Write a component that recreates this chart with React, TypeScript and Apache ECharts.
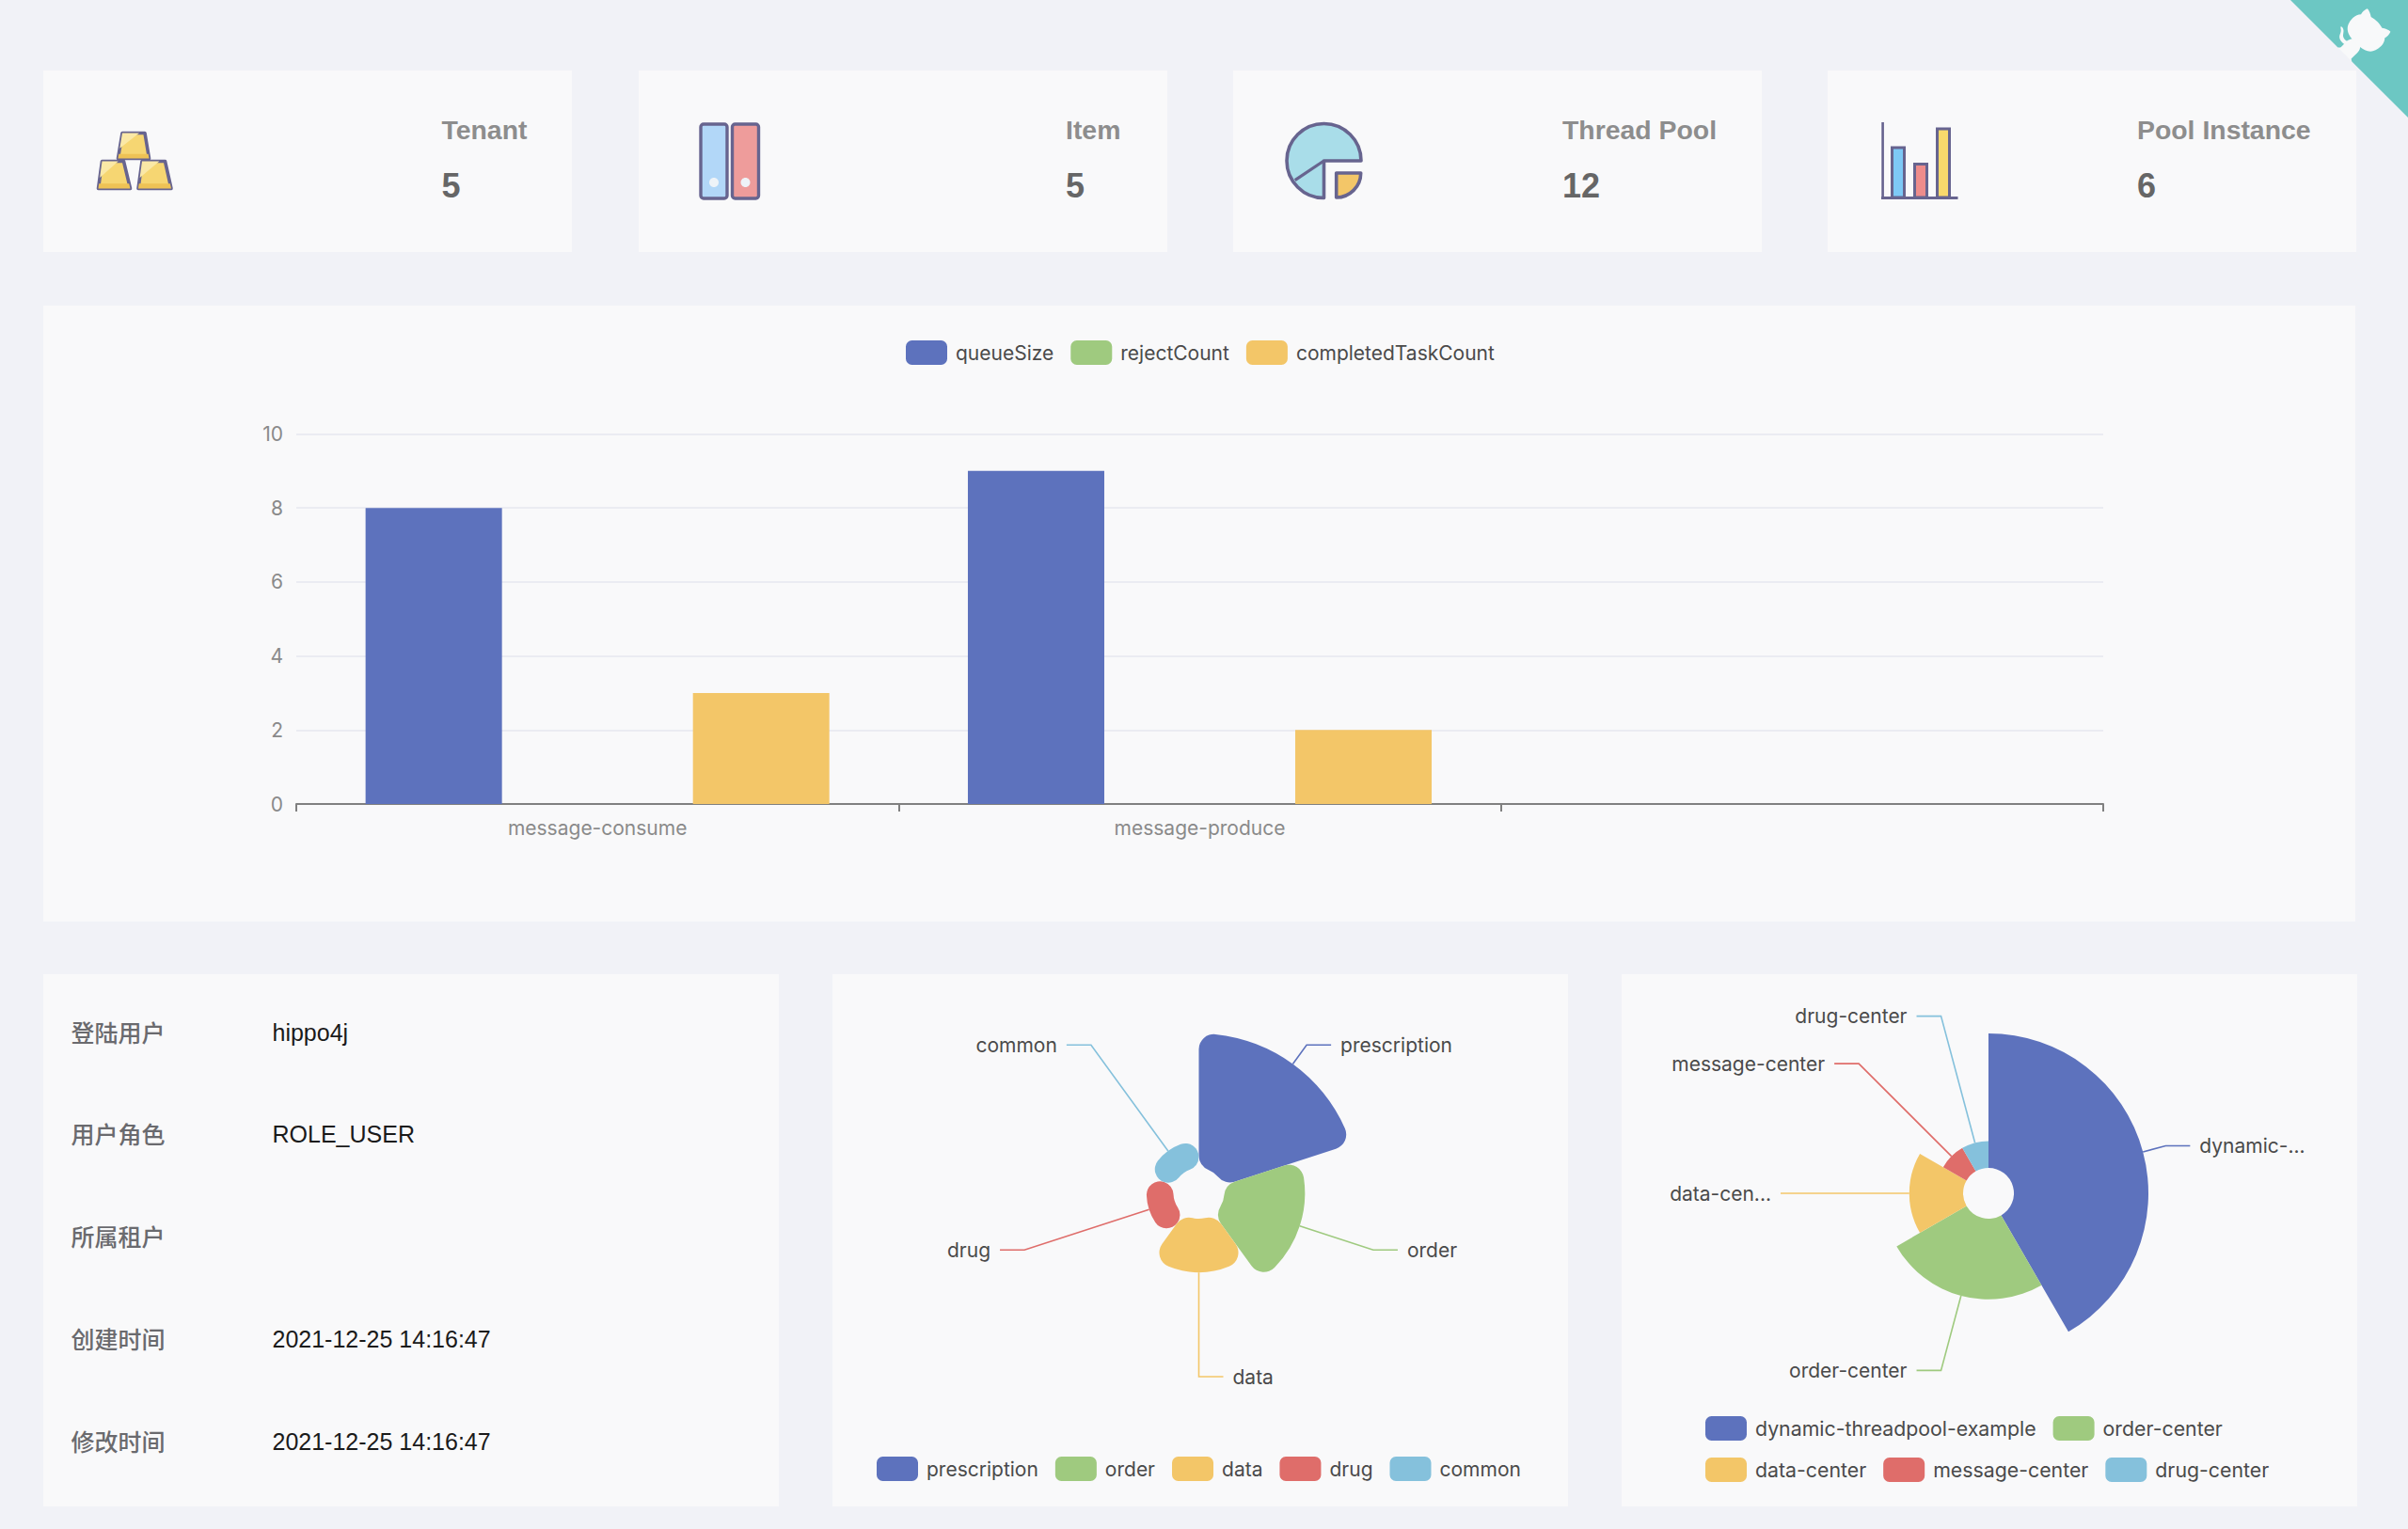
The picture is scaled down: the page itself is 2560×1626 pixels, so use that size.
import React, { useEffect, useRef } from "react";
import * as echarts from "echarts";

// ---------- data ----------
const cardTitles = ["Tenant", "Item", "Thread Pool", "Pool Instance"];
const cardValues = ["5", "5", "12", "6"];
const barCategories = ["message-consume", "message-produce", ""];
const barSeriesNames = ["queueSize", "rejectCount", "completedTaskCount"];
const queueSize = [8, 9];
const rejectCount = [0, 0];
const completedTaskCount = [3, 2];
const infoLabels = ["登陆用户", "用户角色", "所属租户", "创建时间", "修改时间"];
const infoValues = ["hippo4j", "ROLE_USER", "", "2021-12-25 14:16:47", "2021-12-25 14:16:47"];
const pieANames = ["prescription", "order", "data", "drug", "common"];
const pieAValues = [5, 3, 2, 1, 1];
const pieBNames = ["dynamic-threadpool-example", "order-center", "data-center", "message-center", "drug-center"];
const pieBValues = [5, 3, 2, 1, 1];

// ---------- style ----------
const PALETTE = ["#5d72bd", "#9fca7f", "#f3c668", "#df6d6a", "#85c1dc"];
const BG = "#f1f2f7";
const PANEL = "#f9f9fa";
const INK = "#67648f";
const FONT = "Inter, 'Noto Sans', sans-serif";
const HEL = "'Liberation Sans', Arial, sans-serif";

echarts.graphic.registerShape(
  "ghCorner",
  echarts.graphic.extendPath("M0,0 L115,115 L130,115 L142,142 L250,250 L250,0 Z", {})
);
echarts.graphic.registerShape(
  "ghArm",
  echarts.graphic.extendPath(
    "M128.3,109.0 C113.8,99.7 119.0,89.6 119.0,89.6 C122.0,82.7 120.5,78.6 120.5,78.6 C119.2,72.0 123.4,76.3 123.4,76.3 C127.3,80.9 125.5,87.3 125.5,87.3 C122.9,97.6 130.6,101.9 134.4,103.2 Z",
    {}
  )
);
echarts.graphic.registerShape(
  "ghBody",
  echarts.graphic.extendPath(
    "M115.0,115.0 C114.9,115.1 118.7,116.5 119.8,115.4 L133.7,101.6 C136.9,99.2 139.9,98.4 142.2,98.6 C133.8,88.0 127.5,74.4 143.8,58.0 C148.5,53.4 154.0,51.2 159.7,51.0 C160.3,49.4 163.2,43.6 171.4,40.1 C171.4,40.1 176.1,42.5 178.8,56.2 C183.1,58.6 187.2,61.8 190.9,65.4 C194.5,69.0 197.7,73.2 200.1,77.6 C213.8,80.2 216.3,84.9 216.3,84.9 C212.7,93.1 206.9,96.0 205.4,96.6 C205.1,102.4 203.0,107.8 198.3,112.5 C181.9,128.9 168.3,122.5 157.7,114.1 C157.9,116.9 156.7,120.9 152.7,124.9 L141.0,136.5 C139.8,137.7 141.6,141.9 141.8,141.8 Z",
    {}
  )
);

const panel = (x: number, y: number, width: number, height: number) => ({
  type: "rect",
  silent: true,
  shape: { x, y, width, height },
  style: { fill: PANEL },
});

const label = (text: string, x: number, y: number, font: string, fill: string) => ({
  type: "text",
  silent: true,
  x,
  y,
  style: { text, font, fill, textAlign: "left", textVerticalAlign: "middle", verticalAlign: "middle" },
});

const poly = (points: number[][], fill: string, stroke?: string, lineWidth = 0) => ({
  type: "polygon",
  silent: true,
  shape: { points },
  style: { fill, stroke, lineWidth, lineJoin: "round" },
});

const goldBar = (p: number[][]) => {
  const [a, b, c, d] = p;
  const band = 0.18;
  const lerp = (u: number[], v: number[], t: number) => [u[0] + (v[0] - u[0]) * t, u[1] + (v[1] - u[1]) * t];
  return [
    poly(p, "#f6d672", INK, 3.6),
    poly([a, lerp(a, b, 0.75), lerp(a, d, 0.6)], "#fae8a6"),
    poly([lerp(d, a, band), lerp(c, b, band), c, d], "#eec255"),
  ];
};

const iconGold = [
  ...goldBar([[130, 141.5], [154, 141.5], [158.5, 168.5], [125.5, 168.5]]),
  ...goldBar([[108.5, 171.5], [131.5, 171.5], [138.5, 200.5], [104.5, 200.5]]),
  ...goldBar([[151, 171.5], [175.5, 171.5], [182, 200.5], [147, 200.5]]),
];

const book = (x: number, width: number, fill: string) => [
  {
    type: "rect",
    silent: true,
    shape: { x, y: 132, width, height: 79, r: 3 },
    style: { fill, stroke: INK, lineWidth: 3.4 },
  },
  {
    type: "ellipse",
    silent: true,
    shape: { cx: x + width / 2, cy: 194, rx: 5, ry: 5 },
    style: { fill: "#eef3f8" },
  },
];
const iconBooks = [...book(745, 28, "#b2d7f8"), ...book(778.5, 28, "#ee9c9b")];

const iconPie = [
  {
    type: "sector",
    silent: true,
    shape: { cx: 1407.5, cy: 171, r: 39.5, r0: 0, startAngle: Math.PI / 2, endAngle: Math.PI * 2, clockwise: true },
    style: { fill: "#a9dde9", stroke: INK, lineWidth: 3.6, lineJoin: "round" },
  },
  {
    type: "line",
    silent: true,
    shape: { x1: 1407.5, y1: 171, x2: 1376.7, y2: 191.7 },
    style: { stroke: INK, lineWidth: 3.2 },
  },
  {
    type: "sector",
    silent: true,
    shape: { cx: 1420.7, cy: 184, r: 26, r0: 0, startAngle: 0, endAngle: Math.PI / 2, clockwise: true },
    style: { fill: "#f3c668", stroke: INK, lineWidth: 3.6, lineJoin: "round" },
  },
];

const bar = (x: number, y: number, fill: string) => ({
  type: "rect",
  silent: true,
  shape: { x, y, width: 13, height: 210 - y },
  style: { fill, stroke: INK, lineWidth: 3 },
});
const iconBars = [
  { type: "line", silent: true, shape: { x1: 2001.6, y1: 130, x2: 2001.6, y2: 211 }, style: { stroke: INK, lineWidth: 2.6 } },
  bar(2011.5, 157, "#7ec9f6"),
  bar(2035.5, 174.5, "#ee8c8b"),
  bar(2059.5, 137, "#f8d96c"),
  { type: "line", silent: true, shape: { x1: 2000, y1: 210.5, x2: 2081.5, y2: 210.5 }, style: { stroke: INK, lineWidth: 3.2 } },
];

const corner = (type: string, fill: string) => ({
  type,
  silent: true,
  x: 2422,
  y: -13,
  scaleX: 0.552,
  scaleY: 0.552,
  style: { fill },
});

const cardX = [46, 679, 1311, 1943];
const titleX = [469.5, 1133, 1661, 2272];
const labelRowY = [1096.5, 1205, 1314, 1423, 1532];
const valueRowY = [1098, 1206, 1315, 1424, 1533];

const pieLabel = {
  color: "#4a4a4a",
  fontFamily: FONT,
  fontSize: 21,
  distanceToLabelLine: 10,
};
const pieLine = { length: 25, length2: 26, lineStyle: { width: 1.6 } };
const legendBase = {
  icon: "roundRect",
  itemWidth: 44,
  itemHeight: 26,
  itemGap: 18,
  padding: 0,
  textStyle: { color: "#4a4a4a", fontFamily: FONT, fontSize: 21, padding: [0, 0, 0, 4] },
  selectedMode: false,
};

const option: any = {
  animation: false,
  backgroundColor: BG,
  color: PALETTE,
  graphic: {
    elements: [
      ...cardX.map((x) => panel(x, 75, 562, 193)),
      panel(46, 325, 2458, 655),
      panel(46, 1036, 782, 566),
      panel(885, 1036, 782, 566),
      panel(1724, 1036, 782, 566),
      corner("ghCorner", "#6cc7c3"),
      corner("ghArm", "#f8f9fa"),
      corner("ghBody", "#f8f9fa"),
      ...iconGold,
      ...iconBooks,
      ...iconPie,
      ...iconBars,
      ...cardTitles.map((t, i) => label(t, titleX[i], 138, `bold 28.4px ${HEL}`, "#8d8d8d")),
      ...cardValues.map((t, i) => label(t, titleX[i], 197, `bold 36px ${HEL}`, "#666666")),
      ...infoLabels.map((t, i) => label(t, 75.5, labelRowY[i], `500 25px 'Noto Sans CJK SC', sans-serif`, "#6a6a6e")),
      ...infoValues.map((t, i) => label(t, 289.5, valueRowY[i], `25px ${HEL}`, "#1a1a1a")),
    ],
  },
  legend: [
    { ...legendBase, data: barSeriesNames, left: 963, top: 362 },
    { ...legendBase, data: pieANames, left: 932, top: 1549 },
    {
      ...legendBase,
      textStyle: { ...legendBase.textStyle, fontSize: 21.3 },
      data: pieBNames,
      left: 1813,
      top: 1506,
      width: 660,
    },
  ],
  grid: { left: 315, top: 461.5, width: 1921, height: 393.5 },
  xAxis: {
    type: "category",
    data: barCategories,
    axisLine: { lineStyle: { color: "#808080", width: 2 } },
    axisTick: { show: true, alignWithLabel: false, length: 8, lineStyle: { color: "#808080", width: 2 } },
    axisLabel: { color: "#8a8a8a", fontFamily: FONT, fontSize: 21, margin: 15, interval: 0 },
  },
  yAxis: {
    type: "value",
    min: 0,
    max: 10,
    interval: 2,
    axisLine: { show: false },
    axisTick: { show: false },
    axisLabel: { color: "#8a8a8a", fontFamily: FONT, fontSize: 21, margin: 14 },
    splitLine: { lineStyle: { color: "#ebecf2", width: 2 } },
  },
  series: [
    { type: "bar", name: barSeriesNames[0], data: queueSize, barGap: "20%", barCategoryGap: "23%" },
    { type: "bar", name: barSeriesNames[1], data: rejectCount },
    { type: "bar", name: barSeriesNames[2], data: completedTaskCount },
    {
      type: "pie",
      roseType: "area",
      left: 914.5,
      top: 1068,
      width: 720,
      height: 534,
      center: ["50%", 201],
      radius: [27, 170],
      itemStyle: { borderRadius: 16 },
      label: pieLabel,
      labelLine: pieLine,
      data: pieANames.map((name, i) => ({ name, value: pieAValues[i] })),
    },
    {
      type: "pie",
      roseType: "radius",
      left: 1762,
      top: 1068,
      width: 703,
      height: 534,
      center: [352, 201],
      radius: [27, 170],
      label: pieLabel,
      labelLine: pieLine,
      data: pieBNames.map((name, i) => ({ name, value: pieBValues[i] })),
    },
  ],
};

export default function App() {
  const ref = useRef<HTMLDivElement>(null);
  useEffect(() => {
    document.body.style.margin = "0";
    const chart = echarts.init(ref.current as HTMLDivElement, undefined, { renderer: "svg" });
    chart.setOption(option);
    return () => chart.dispose();
  }, []);
  return <div ref={ref} style={{ position: "absolute", left: 0, top: 0, width: 2560, height: 1626 }} />;
}
